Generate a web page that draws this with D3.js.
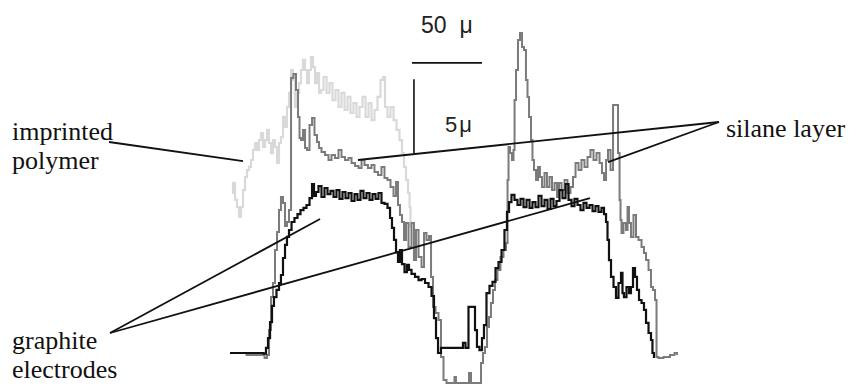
<!DOCTYPE html>
<html>
<head>
<meta charset="utf-8">
<script src="https://cdn.jsdelivr.net/npm/d3@7/dist/d3.min.js"></script>
<style>
  html, body { margin: 0; padding: 0; background: #fff; }
  svg { display: block; }
</style>
</head>
<body>
<script>
// Surface profile across two graphite electrodes: lateral position (µm) vs height (µm).

// graphite electrodes (bare profile)
const graphite = [
  [0,0],[22.9,0],[25,-0.05],[26.4,0.34],[27.9,1.01],[29.3,2.09],[30.7,3.18],[32.1,3.78],
  [34.3,4.26],[35.7,4.73],[37.1,5.27],[38.6,6.42],[40,7.3],[41.4,7.84],[42.9,8.31],[45,8.85],
  [47.1,9.12],[49.3,9.39],[51.4,9.66],[53.6,9.8],[55.7,10.0],[57.9,10.47],[59.3,11.42],[60.7,10.61],
  [62.1,10.88],[64.3,11.28],[66.4,10.54],[68.6,11.15],[70.7,10.74],[72.9,10.95],[75,10.54],[77.1,11.01],
  [79.3,10.41],[81.4,10.88],[83.6,10.47],[85.7,10.81],[87.9,10.27],[90,10.74],[92.1,10.34],[94.3,10.95],
  [96.4,10.47],[98.6,10.81],[100.7,10.34],[102.9,10.74],[105,10.41],[107.1,10.81],[109.3,10.14],[111.4,10.07],
  [113.6,9.8],[115,9.12],[116.4,8.45],[117.9,7.64],[119.3,6.82],[120.7,6.15],[122.1,6.96],[123.6,6.01],
  [125.7,5.47],[127.1,5.95],[128.6,5.61],[130.7,5.34],[133.6,5.14],[135.7,4.93],[137.9,5.0],[140.7,4.73],
  [142.9,4.46],[145,3.85],[146.4,2.36],[147.9,1.01],[149.3,0],[152.1,0.34],[165.7,0.34],[167.1,0.68],
  [169.3,0.34],[171.4,3.11],[174.3,3.11],[175.7,1.55],[177.1,0.41],[179.3,0.2],[180.7,1.01],[182.1,1.89],
  [184.3,4.05],[186.4,4.53],[188.6,4.8],[190.7,5.74],[192.9,6.15],[195,6.96],[197.1,8.31],[198.6,9.53],
  [200,10.2],[202.1,10.68],[204.3,10.34],[206.4,10.0],[208.6,10.41],[210.7,9.86],[212.9,10.34],[215,9.8],
  [217.1,10.2],[219.3,9.86],[221.4,10.61],[223.6,9.93],[225.7,10.34],[227.9,9.73],[230,10.41],[232.1,9.93],
  [234.3,10.27],[236.4,11.01],[238.6,10.47],[240.7,11.42],[242.9,10.34],[245,9.93],[247.1,10.41],[249.3,10.0],
  [251.4,9.66],[253.6,10.14],[255.7,9.8],[257.9,10.0],[260,9.59],[262.1,9.93],[264.3,9.53],[266.4,9.8],
  [267.9,9.39],[269.3,8.85],[270,7.64],[271.4,6.28],[272.9,5.14],[275,4.46],[276.4,3.72],[278.6,4.73],
  [280,5.41],[280.7,4.05],[282.1,3.78],[284.3,4.46],[285.7,4.05],[287.1,4.46],[288.6,5.74],[290,5.14],
  [291.4,4.26],[292.9,3.58],[295,3.38],[296.4,2.91],[297.9,2.03],[300,1.35],[301.4,0.88],[302.1,0],
  [303.6,-0.27]
];

// after silane layer deposition
const silane = [
  [0,0],[23.6,-0.14],[25.7,-0.34],[27.1,-0.14],[28.6,1.55],[30,3.78],[31.4,4.73],[32.9,6.96],
  [34.3,8.18],[35.7,9.66],[37.1,10.54],[38.6,10.14],[40,8.58],[41.4,8.85],[42.9,9.66],[44.3,18.58],
  [46.4,18.85],[47.9,17.77],[49.3,15.95],[50,14.53],[51.4,14.39],[52.9,15.07],[54.3,13.85],[55.7,13.72],
  [57.9,15.41],[59.3,15.88],[61.4,14.73],[62.9,14.26],[64.3,13.85],[66.4,13.58],[69.3,13.38],[71.4,13.04],
  [73.6,13.38],[76.4,13.18],[78.6,13.72],[80.7,13.24],[83.6,13.04],[85.7,13.18],[87.9,12.84],[90.7,12.64],
  [92.9,12.5],[95,13.04],[97.1,12.7],[100,12.5],[102.1,12.7],[104.3,12.23],[107.1,12.03],[109.3,12.57],
  [111.4,11.82],[113.6,11.69],[115.7,11.22],[117.9,10.61],[119.3,11.55],[120.7,10.0],[122.1,9.32],[123.6,8.85],
  [125,7.64],[126.4,8.78],[128.6,7.16],[130.7,8.78],[132.1,6.28],[133.6,8.31],[135.7,6.49],[137.9,5.81],
  [139.3,8.11],[141.4,7.64],[142.9,7.91],[144.3,5.14],[145.7,3.11],[147.9,2.7],[150,2.23],[151.4,-0.27],
  [153.6,-1.82],[155.7,-2.03],[160,-2.03],[160.7,-1.62],[162.1,-2.03],[170,-2.03],[171.4,-1.35],[172.9,-2.03],
  [178.6,-2.03],[180,-0.68],[181.4,0],[182.9,0.41],[184.3,1.76],[185.7,2.43],[187.1,3.38],[188.6,4.26],
  [190,4.93],[192.1,5.61],[194.3,6.49],[196.4,6.96],[197.9,7.43],[198.6,11.69],[199.3,13.92],[200.7,13.51],
  [202.1,13.04],[202.9,13.72],[203.6,17.09],[205,19.12],[206.4,21.15],[207.9,21.62],[209.3,20.68],[210.7,20.47],
  [212.1,18.45],[212.9,17.3],[214.3,15.95],[215.7,14.39],[216.4,13.04],[217.9,12.36],[219.3,11.69],[220.7,12.57],
  [222.1,11.89],[223.6,11.22],[225.7,12.16],[227.1,11.22],[229.3,11.89],[230.7,11.01],[232.9,11.49],[234.3,10.54],
  [235.7,11.49],[237.9,11.01],[240,11.69],[242.1,10.81],[244.3,11.22],[245.7,11.89],[247.9,12.84],[250,12.36],
  [252.1,13.04],[254.3,12.57],[256.4,13.24],[258.6,13.72],[260.7,13.04],[262.9,13.51],[265,12.84],[266.4,12.16],
  [267.9,11.69],[269.3,13.04],[270.7,13.72],[272.9,12.36],[274.3,16.76],[276.4,16.76],[277.9,13.51],[278.6,10.34],
  [279.3,8.99],[280,8.11],[282.1,8.78],[283.6,8.31],[284.3,9.86],[285.7,8.78],[287.1,7.84],[289.3,9.32],
  [290.7,7.84],[292.9,7.64],[295,7.16],[296.4,6.76],[297.9,6.28],[300,5.61],[301.4,4.46],[302.9,4.26],
  [304.3,3.58],[305,-0.27],[307.1,-0.34],[312.1,-0.27],[316.4,-0.14],[318.6,0],[320,-0.07]
];

// imprinted polymer film (left electrode only)
const polymer = [
  [1.4,10.81],[2.9,11.49],[4.3,10.34],[5.7,9.86],[7.1,9.19],[8.6,9.86],[10,11.01],[11.4,11.89],
  [12.9,12.36],[14.3,12.57],[15.7,13.04],[17.1,13.72],[18.6,14.19],[20,13.72],[21.4,14.39],[22.9,14.86],
  [24.3,13.92],[25.7,14.39],[27.1,15.07],[28.6,14.19],[30,13.51],[31.4,14.39],[32.9,13.92],[34.3,12.84],
  [35.7,14.19],[37.1,14.59],[38.6,15.95],[40,15.27],[41.4,16.62],[42.9,17.57],[44.3,19.12],[45.7,18.45],
  [47.1,16.62],[48.6,17.57],[50,18.24],[51.4,19.12],[52.9,19.8],[54.3,19.12],[55.7,18.24],[57.1,19.12],
  [58.6,20.0],[60,19.32],[61.4,18.24],[62.9,18.92],[64.3,17.57],[65.7,17.77],[67.9,18.65],[70,17.57],
  [72.1,18.24],[74.3,17.09],[76.4,17.77],[78.6,16.62],[80.7,17.57],[82.9,16.42],[85,17.3],[87.1,16.22],
  [89.3,16.89],[91.4,15.95],[93.6,16.62],[95.7,17.3],[97.9,15.95],[100,16.89],[102.1,15.74],[104.3,16.42],
  [106.4,17.3],[108.6,18.45],[110,18.65],[111.4,16.62],[113.6,15.95],[115.7,16.62],[117.9,15.74],[120,15.07],
  [122.1,14.39],[123.6,13.51],[125,12.57],[126.4,11.69],[127.9,10.81],[128.6,9.86],[129.3,8.51]
];

// Label texts with the points (µm, µm) their leader lines reach.
const labelLines = [
  { text: ["imprinted", "polymer"], targets: [[9.3, 12.97]] },
  { text: ["graphite", "electrodes"], targets: [[64.3, 9.05], [257.1, 10.47]] },
  { text: ["silane layer"], targets: [[91.4, 13.04], [270, 12.9]] }
];

// Scale bars: 50 µm horizontal, 5 µm vertical.
const scaleBarX = { from: 130, to: 180, at: 19.6, label: "50", unit: "μ" };
const scaleBarY = { from: 13.5, to: 18.5, at: 131.4, label: "5", unit: "μ" };

const W = 851, H = 385;
const svg = d3.select("body").append("svg").attr("width", W).attr("height", H);

const x = d3.scaleLinear().domain([0, 320]).range([230, 678]);
const y = d3.scaleLinear().domain([0, 20]).range([353, 57]);

const line = d3.line().x(d => x(d[0])).y(d => y(d[1])).curve(d3.curveStep);

const traces = [
  { data: polymer, color: "#d9d9d9", width: 2.2 },
  { data: silane, color: "#7b7b7b", width: 2 },
  { data: graphite, color: "#111", width: 2.2 }
];
svg.selectAll("path.trace").data(traces).join("path")
  .attr("class", "trace")
  .attr("d", d => line(d.data))
  .attr("fill", "none")
  .attr("stroke", d => d.color)
  .attr("stroke-width", d => d.width)
  .attr("stroke-linejoin", "miter");

// Scale bars
svg.append("line")
  .attr("x1", x(scaleBarX.from)).attr("x2", x(scaleBarX.to))
  .attr("y1", y(scaleBarX.at)).attr("y2", y(scaleBarX.at))
  .attr("stroke", "#111").attr("stroke-width", 1.6);
svg.append("line")
  .attr("x1", x(scaleBarY.at)).attr("x2", x(scaleBarY.at))
  .attr("y1", y(scaleBarY.from)).attr("y2", y(scaleBarY.to))
  .attr("stroke", "#111").attr("stroke-width", 1.6);

const sansFont = "Liberation Sans, Arial, sans-serif";
const t50 = svg.append("text").attr("x", 421).attr("y", 33)
  .style("font-family", sansFont).style("font-size", "23px").attr("fill", "#222");
t50.append("tspan").text(scaleBarX.label);
t50.append("tspan").attr("dx", 13).text(scaleBarX.unit);
const t5 = svg.append("text").attr("x", 445).attr("y", 132)
  .style("font-family", sansFont).style("font-size", "22px").attr("fill", "#222");
t5.append("tspan").text(scaleBarY.label);
t5.append("tspan").attr("dx", 2).text(scaleBarY.unit);

// Labels and leader lines
const serifFont = "Liberation Serif";
const labelLayout = [
  { x: 12, y: 140, anchor: [109, 142] },
  { x: 12, y: 349, anchor: [110, 333] },
  { x: 726, y: 137, anchor: [719, 122] }
];
labelLines.forEach((lab, i) => {
  const L = labelLayout[i];
  const t = svg.append("text").attr("x", L.x).attr("y", L.y)
    .style("font-family", serifFont).style("font-size", "26px").attr("fill", "#111");
  lab.text.forEach((s, k) => {
    t.append("tspan").attr("x", L.x).attr("dy", k === 0 ? 0 : 29).text(s);
  });
  lab.targets.forEach(tg => {
    svg.append("line")
      .attr("x1", L.anchor[0]).attr("y1", L.anchor[1])
      .attr("x2", x(tg[0])).attr("y2", y(tg[1]))
      .attr("stroke", "#111").attr("stroke-width", 1.8);
  });
});
</script>
</body>
</html>
